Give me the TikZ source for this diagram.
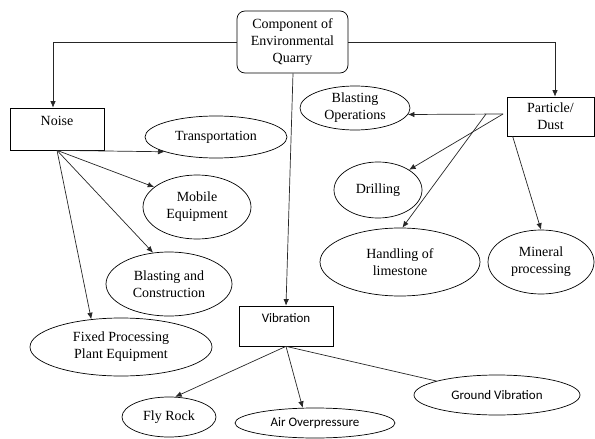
\documentclass[tikz,border=0pt]{standalone}
\usepackage{fontspec}
\setmainfont{Liberation Serif}
\newfontfamily\carlitofont{Carlito}
\usetikzlibrary{arrows.meta,shapes.geometric}

\tikzset{
  box/.style={draw, rectangle, inner sep=0pt, line width=0.7pt},
  oval/.style={draw, ellipse, inner sep=0pt, align=center, line width=0.7pt},
  txt/.style={inner sep=0pt, align=center},
  link/.style={-{Latex[length=6.5pt,width=5.5pt]}, line width=0.7pt, draw=black!85}
}

\begin{document}
\begin{tikzpicture}[x=1pt, y=-1pt, font=\fontsize{14}{17}\selectfont]
\useasboundingbox (0,0) rectangle (595,439);
% main box
\node[box, rounded corners=8pt, minimum width=111pt, minimum height=62pt, align=center] (comp) at (292.5,42) {Component of\\Environmental\\Quarry};
% the three groups
\node[box, minimum width=94pt, minimum height=42pt] (noise) at (57,129) {};
\node[txt] at (57,121) {Noise};
\node[box, minimum width=87pt, minimum height=39pt, align=center] (part) at (550.5,116.5) {Particle/\\Dust};
\node[box, minimum width=94pt, minimum height=40pt] (vib) at (286,326) {};
\node[txt, font=\carlitofont\fontsize{13}{16}\selectfont] at (286,318) {Vibration};
% noise sources
\node[oval, minimum width=142pt, minimum height=42pt] (trans) at (216,137) {Transportation};
\node[oval, minimum width=108pt, minimum height=64pt] (mob) at (197,207) {Mobile\\Equipment};
\node[oval, minimum width=126pt, minimum height=64pt] (bc) at (169,284) {Blasting and\\Construction};
\node[oval, minimum width=182pt, minimum height=58pt] (fixed) at (121,347) {Fixed Processing\\Plant Equipment};
% dust sources
\node[oval, minimum width=110pt, minimum height=44pt] (bo) at (355,108) {Blasting\\Operations};
\node[oval, minimum width=88pt, minimum height=56pt] (dr) at (378,190) {Drilling};
\node[oval, minimum width=160pt, minimum height=68pt] (hl) at (400,262) {Handling of\\limestone};
\node[oval, minimum width=106pt, minimum height=64pt] (mp) at (541,262) {Mineral\\processing};
% vibration sources
\node[oval, minimum width=94pt, minimum height=40pt] (fly) at (169,417) {Fly Rock};
\node[oval, minimum width=160pt, minimum height=30pt, font=\carlitofont\fontsize{13}{16}\selectfont] (air) at (315,423) {Air Overpressure};
\node[oval, minimum width=166pt, minimum height=40pt, font=\carlitofont\fontsize{13}{16}\selectfont] (gv) at (497,395) {Ground Vibration};

\coordinate (pd) at (503,114);
\coordinate (hs) at (486,114);

\draw[link] (comp.west) -| ([xshift=-4pt]noise.north);
\draw[link] (comp.east) -| ([xshift=4.5pt]part.north);
\draw[link] ([xshift=0.5pt]comp.south) -- (vib.north);

\draw[link] (noise.south) -- (trans.196);
\draw[link] (noise.south) -- (mob.155);
\draw[link] (noise.south) -- (bc.117);
\draw[link] (noise.south) -- (fixed.137);

\draw[link] (pd) -- (bo.353);
\draw[link] (pd) -- (dr.33);
\draw[link] (hs) -- (hl.86);
\draw[link] ([xshift=6pt]part.south west) -- (mp.north);

\draw[link] (vib.south) -- (fly.73);
\draw[link] (vib.south) -- (air.129);
\draw[line width=0.7pt, draw=black!85] (vib.south) -- (gv.167);
\end{tikzpicture}
\end{document}
